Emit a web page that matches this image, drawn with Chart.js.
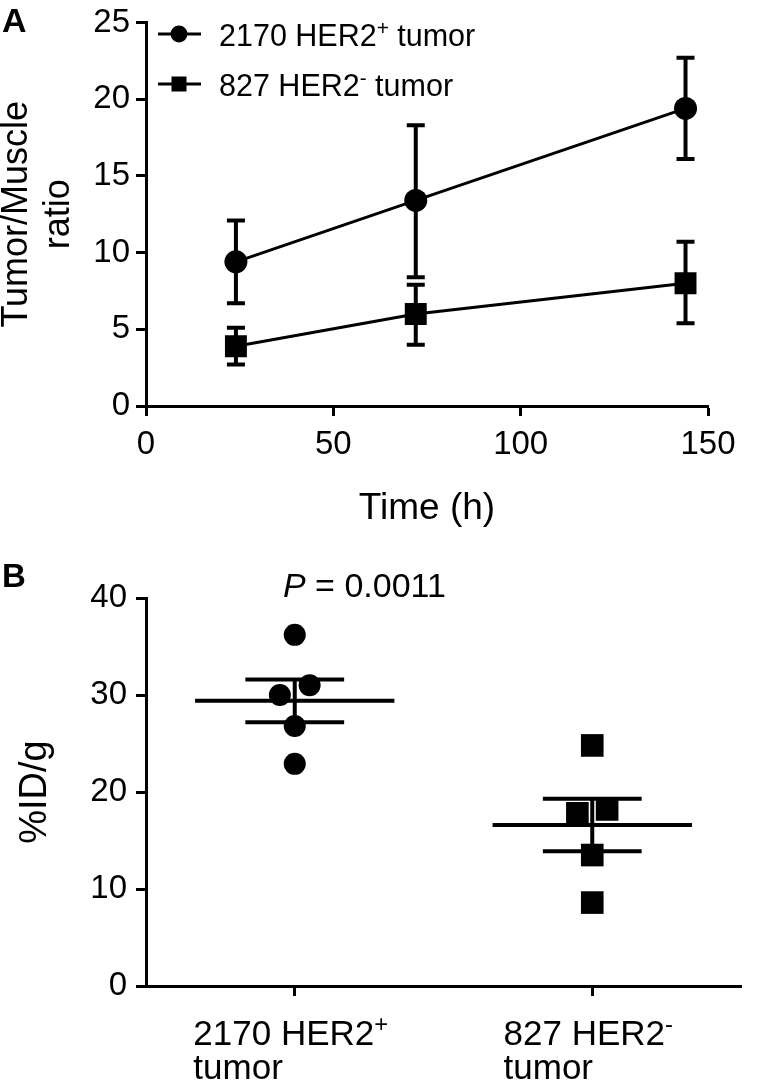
<!DOCTYPE html>
<html>
<head>
<meta charset="utf-8">
<script src="https://cdn.jsdelivr.net/npm/chart.js@4.4.1/dist/chart.umd.min.js"></script>
<style>
html,body{margin:0;padding:0;background:#fff;}
#wrap{position:relative;width:757px;height:1089px;overflow:hidden;background:#fff;}
canvas{position:absolute;left:0;}
#ca{top:0;}
#cb{top:545px;}
</style>
</head>
<body>
<div id="wrap">
<canvas id="ca" width="757" height="545"></canvas>
<canvas id="cb" width="757" height="544"></canvas>
</div>
<script>
// ---------- Panel A data ----------
const timeHours = [24, 72, 144];
const her2PosRatio = [9.4, 13.4, 19.4];
const her2PosLow = [6.7, 8.4, 16.1];
const her2PosHigh = [12.1, 18.3, 22.7];
const her2NegRatio = [3.9, 6.0, 8.0];
const her2NegLow = [2.7, 4.0, 5.4];
const her2NegHigh = [5.1, 7.9, 10.7];
const seriesLabels = ['2170 HER2⁺ tumor', '827 HER2⁻ tumor'];
const xTicksA = [0, 50, 100, 150];
const yTicksA = [0, 5, 10, 15, 20, 25];

// ---------- Panel B data ----------
const groupLabels = [['2170 HER2⁺', 'tumor'], ['827 HER2⁻', 'tumor']];
const her2PosIDg = [36.2, 31.0, 30.0, 26.8, 22.9];
const her2NegIDg = [24.8, 17.8, 18.2, 13.5, 8.6];
const her2PosJitter = [0, 0.05, -0.05, 0, 0];
const her2NegJitter = [0, -0.05, 0.05, 0, 0];
const groupMeans = [29.4, 16.6];
const groupSEM = [2.2, 2.7];
const yTicksB = [0, 10, 20, 30, 40];
const pValueText = '0.0011';

const FONT = "'Liberation Sans', Arial, Helvetica, sans-serif";
const BLACK = '#000';

function richSegments(ctx, text, size) {
  const segs = [];
  for (const ch of text) {
    const supCh = ch === '⁺' ? '+' : (ch === '⁻' ? '-' : null);
    const isSup = supCh !== null;
    const last = segs[segs.length - 1];
    if (last && last.sup === isSup) last.t += isSup ? supCh : ch;
    else segs.push({sup: isSup, t: isSup ? supCh : ch});
  }
  let w = 0;
  segs.forEach(s => {
    s.size = s.sup ? size * 0.68 : size;
    ctx.font = s.size + 'px ' + FONT;
    s.w = ctx.measureText(s.t).width;
    w += s.w;
  });
  return {segs, w};
}
function drawRich(ctx, text, x, y, size) {
  const {segs} = richSegments(ctx, text, size);
  ctx.textAlign = 'left';
  ctx.textBaseline = 'alphabetic';
  ctx.fillStyle = BLACK;
  let cx = x;
  segs.forEach(s => {
    ctx.font = s.size + 'px ' + FONT;
    ctx.fillText(s.t, cx, s.sup ? y - size * 0.36 : y);
    cx += s.w;
  });
}

function axisCommon(fontSize, pad, showLabels) {
  return {
    border: {display: true, color: BLACK, width: 3},
    grid: {display: true, drawOnChartArea: false, drawTicks: true, tickLength: 10, tickWidth: 3, color: BLACK},
    ticks: {display: showLabels, color: BLACK, font: {family: FONT, size: fontSize, lineHeight: 1}, padding: pad, maxRotation: 0, autoSkip: false}
  };
}

// ---------- Plugins for panel A ----------
const errorBarsA = {
  id: 'errorBarsA',
  afterDatasetsDraw(chart) {
    const {ctx, scales: {x, y}} = chart;
    const sets = [[her2PosLow, her2PosHigh], [her2NegLow, her2NegHigh]];
    ctx.save();
    ctx.strokeStyle = BLACK;
    ctx.lineWidth = 4;
    sets.forEach(([lo, hi]) => {
      timeHours.forEach((t, i) => {
        const px = x.getPixelForValue(t);
        const p1 = y.getPixelForValue(lo[i]);
        const p2 = y.getPixelForValue(hi[i]);
        ctx.beginPath();
        ctx.moveTo(px, p1); ctx.lineTo(px, p2);
        ctx.moveTo(px - 9, p1); ctx.lineTo(px + 9, p1);
        ctx.moveTo(px - 9, p2); ctx.lineTo(px + 9, p2);
        ctx.stroke();
      });
    });
    ctx.restore();
  }
};
const legendA = {
  id: 'legendA',
  afterDraw(chart) {
    const ctx = chart.ctx;
    ctx.save();
    chart.data.datasets.forEach((ds, i) => {
      const cy = 34 + i * 50;
      ctx.strokeStyle = BLACK;
      ctx.lineWidth = 3;
      ctx.beginPath(); ctx.moveTo(158, cy); ctx.lineTo(201, cy); ctx.stroke();
      ctx.fillStyle = BLACK;
      if (ds.pointStyle === 'circle') {
        ctx.beginPath(); ctx.arc(179, cy, 8.5, 0, Math.PI * 2); ctx.fill();
      } else {
        ctx.fillRect(179 - 7.5, cy - 7.5, 15, 15);
      }
      drawRich(ctx, ds.label, 219, cy + 12, 30.5);
    });
    ctx.font = 'bold 34px ' + FONT;
    ctx.fillStyle = BLACK;
    ctx.textAlign = 'left';
    ctx.textBaseline = 'alphabetic';
    ctx.fillText('A', 2, 32);
    ctx.restore();
  }
};

new Chart(document.getElementById('ca'), {
  type: 'line',
  data: {
    datasets: [
      {label: seriesLabels[0], data: timeHours.map((t, i) => ({x: t, y: her2PosRatio[i]})),
       borderColor: BLACK, backgroundColor: BLACK, borderWidth: 3, pointStyle: 'circle', pointRadius: 11.5, pointBorderWidth: 0, tension: 0},
      {label: seriesLabels[1], data: timeHours.map((t, i) => ({x: t, y: her2NegRatio[i]})),
       borderColor: BLACK, backgroundColor: BLACK, borderWidth: 3, pointStyle: 'rect', pointRadius: 15.5, pointBorderWidth: 0, tension: 0}
    ]
  },
  options: {
    responsive: false, animation: false, events: [],
    layout: {padding: {left: 0, right: 49, top: 19, bottom: 0}},
    plugins: {legend: {display: false}, tooltip: {enabled: false}},
    scales: {
      x: Object.assign(axisCommon(33, 12, true), {
        type: 'linear', min: 0, max: 150,
        afterBuildTicks: s => { s.ticks = xTicksA.map(v => ({value: v})); },
        title: {display: true, text: 'Time (h)', color: BLACK, font: {family: FONT, size: 37}, padding: {top: 0, bottom: 14}},
        afterFit: s => { s.height = 139; }
      }),
      y: Object.assign(axisCommon(33, 6, true), {
        type: 'linear', min: 0, max: 25,
        afterBuildTicks: s => { s.ticks = yTicksA.map(v => ({value: v})); },
        title: {display: true, text: ['Tumor/Muscle', 'ratio'], color: BLACK, font: {family: FONT, size: 36, lineHeight: 1.17}, padding: {top: -4, bottom: 0}},
        afterFit: s => { s.width = 146; }
      })
    }
  },
  plugins: [errorBarsA, legendA]
});

// ---------- Plugins for panel B ----------
const meanSemB = {
  id: 'meanSemB',
  afterDatasetsDraw(chart) {
    const {ctx, scales: {x, y}} = chart;
    ctx.save();
    ctx.strokeStyle = BLACK;
    ctx.lineWidth = 4;
    groupMeans.forEach((m, g) => {
      const cx = g + 1;
      const ym = y.getPixelForValue(m);
      const yl = y.getPixelForValue(m - groupSEM[g]);
      const yh = y.getPixelForValue(m + groupSEM[g]);
      ctx.beginPath();
      ctx.moveTo(x.getPixelForValue(cx - 0.335), ym); ctx.lineTo(x.getPixelForValue(cx + 0.335), ym);
      ctx.moveTo(x.getPixelForValue(cx - 0.166), yl); ctx.lineTo(x.getPixelForValue(cx + 0.166), yl);
      ctx.moveTo(x.getPixelForValue(cx - 0.166), yh); ctx.lineTo(x.getPixelForValue(cx + 0.166), yh);
      ctx.moveTo(x.getPixelForValue(cx), yl); ctx.lineTo(x.getPixelForValue(cx), yh);
      ctx.stroke();
    });
    ctx.restore();
  }
};
const labelsB = {
  id: 'labelsB',
  afterDraw(chart) {
    const {ctx, scales: {x}} = chart;
    ctx.save();
    const size = 35;
    groupLabels.forEach((lines, g) => {
      const px = x.getPixelForValue(g + 1);
      const widths = lines.map(l => richSegments(ctx, l, size).w);
      const bw = Math.max(...widths);
      const left = px - bw / 2 - 4;
      lines.forEach((l, k) => drawRich(ctx, l, left, x.top + 59 + k * 34, size));
    });
    // P value
    ctx.fillStyle = BLACK;
    ctx.textAlign = 'left';
    ctx.textBaseline = 'alphabetic';
    ctx.font = 'italic 34px ' + FONT;
    ctx.fillText('P', 283, 52);
    const pw = ctx.measureText('P').width;
    ctx.font = '34px ' + FONT;
    ctx.fillText(' = ' + pValueText, 283 + pw, 52);
    ctx.font = 'bold 33px ' + FONT;
    ctx.fillText('B', 2, 42);
    ctx.restore();
  }
};

new Chart(document.getElementById('cb'), {
  type: 'scatter',
  data: {
    datasets: [
      {label: seriesLabels[0], data: her2PosIDg.map((v, i) => ({x: 1 + her2PosJitter[i], y: v})),
       backgroundColor: BLACK, borderColor: BLACK, pointStyle: 'circle', pointRadius: 11, pointBorderWidth: 0},
      {label: seriesLabels[1], data: her2NegIDg.map((v, i) => ({x: 2 + her2NegJitter[i], y: v})),
       backgroundColor: BLACK, borderColor: BLACK, pointStyle: 'rect', pointRadius: 16, pointBorderWidth: 0}
    ]
  },
  options: {
    responsive: false, animation: false, events: [],
    layout: {padding: {left: 0, right: 7, top: 53, bottom: 0}},
    plugins: {legend: {display: false}, tooltip: {enabled: false}},
    scales: {
      x: Object.assign(axisCommon(35, 10, false), {
        type: 'linear', min: 0.5, max: 2.5,
        afterBuildTicks: s => { s.ticks = groupLabels.map((l, i) => ({value: i + 1})); },
        afterFit: s => { s.height = 103; }
      }),
      y: Object.assign(axisCommon(33, 9, true), {
        type: 'linear', min: 0, max: 40,
        afterBuildTicks: s => { s.ticks = yTicksB.map(v => ({value: v})); },
        title: {display: true, text: '%ID/g', color: BLACK, font: {family: FONT, size: 38}, padding: {top: 13, bottom: 0}},
        afterFit: s => { s.width = 146; }
      })
    }
  },
  plugins: [meanSemB, labelsB]
});
</script>
</body>
</html>
